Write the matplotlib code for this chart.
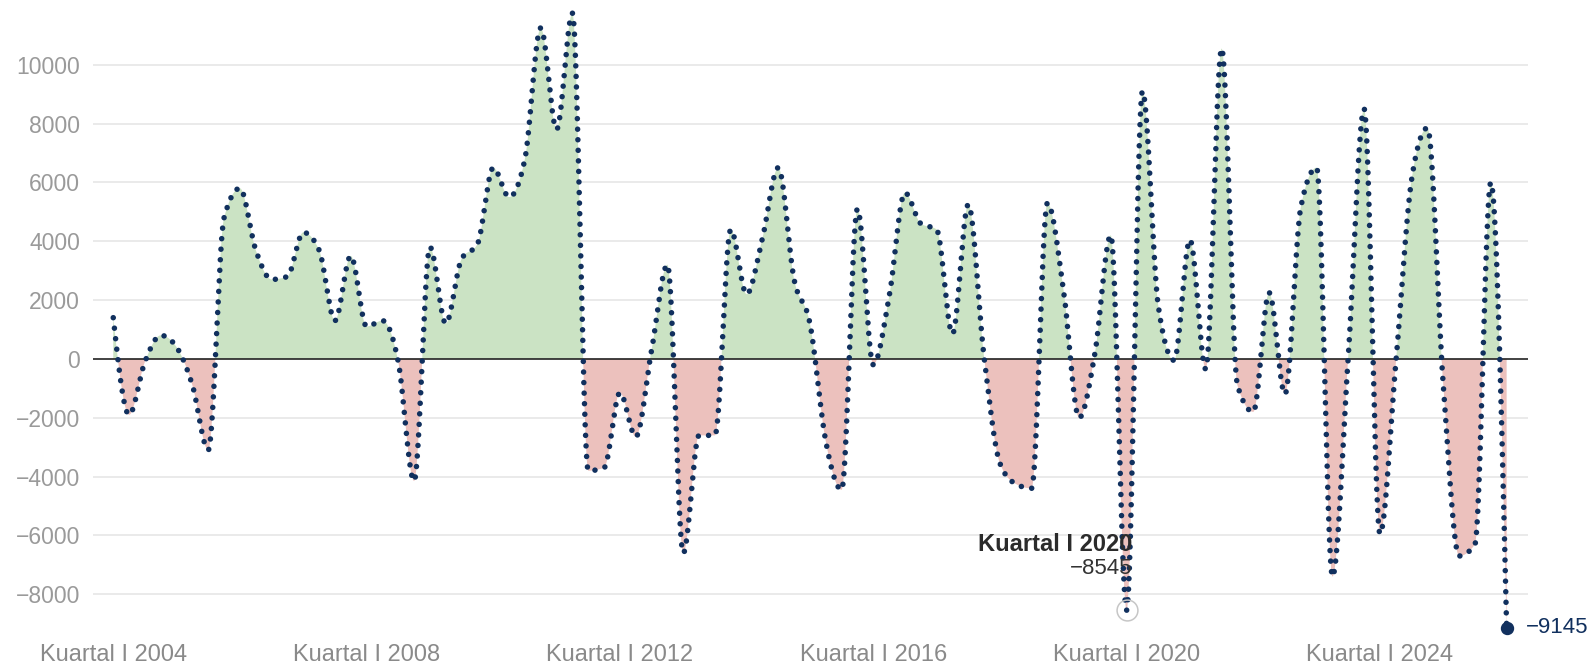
import numpy as np
import matplotlib
matplotlib.use("Agg")
import matplotlib.pyplot as plt

plt.rcParams['font.family'] = ['Liberation Sans', 'DejaVu Sans']

# one value per quarter, Kuartal I 2004 .. Kuartal I 2026
values = [1400, -1900, -100, 800, 400, -900, -3100, 4800,
          5800, 3700, 2700, 2800, 4300, 3700, 1300, 3500,
          1100, 1300, -100, -4150, 3800, 1200, 3400, 3900,
          6500, 5500, 6800, 11250, 7800, 11750, -3800, -3700,
          -1150, -2650, 300, 3200, -6600, -2600, -2600, 4400,
          2200, 4100, 6500, 2700, 1200, -2800, -4450, 5100,
          -200, 2100, 5650, 4600, 4400, 850, 5250, 50,
          -3550, -4250, -4400, 5300, 2400, -2000, 200, 4200,
          -8545, 9100, 1800, -50, 4050, -350, 10550, -900,
          -1800, 2250, -1200, 5150, 6500, -7400, 100, 8500,
          -5950, -150, 6100, 7850, -900, -6700, -6300, 6000,
          -9145]
xtick_pos = [0, 16, 32, 48, 64, 80]
xtick_labels = ["Kuartal I 2004", "Kuartal I 2008", "Kuartal I 2012",
                "Kuartal I 2016", "Kuartal I 2020", "Kuartal I 2024"]
yticks = [-8000, -6000, -4000, -2000, 0, 2000, 4000, 6000, 8000, 10000]
hl_idx = 64
hl_label = "Kuartal I 2020"

NAVY = '#11305e'
GREEN = '#cbe3c4'
RED = '#ecc1bd'


def monotone_x(x, y, n=40):
    # monotone cubic curve (same idea as d3.curveMonotoneX)
    x = np.asarray(x, float)
    y = np.asarray(y, float)
    h = np.diff(x)
    s = np.diff(y) / h
    t = np.zeros_like(y)
    for k in range(1, len(y) - 1):
        p = (s[k-1] * h[k] + s[k] * h[k-1]) / (h[k-1] + h[k])
        t[k] = (np.sign(s[k-1]) + np.sign(s[k])) * min(abs(s[k-1]), abs(s[k]), 0.5 * abs(p))
    t[0] = (3 * s[0] - t[1]) / 2
    t[-1] = (3 * s[-1] - t[-2]) / 2
    u = np.linspace(0, 1, n, endpoint=False)
    xs, ys = [], []
    for k in range(len(y) - 1):
        d = h[k] / 3
        p0, p1, p2, p3 = y[k], y[k] + d * t[k], y[k+1] - d * t[k+1], y[k+1]
        xs.append(x[k] + u * h[k])
        ys.append((1-u)**3 * p0 + 3 * (1-u)**2 * u * p1 + 3 * (1-u) * u**2 * p2 + u**3 * p3)
    xs.append([x[-1]])
    ys.append([y[-1]])
    return np.concatenate(xs), np.concatenate(ys)


q = np.arange(len(values))
xs, ys = monotone_x(q, values)

fig = plt.figure(figsize=(15.95, 6.67), dpi=100)
ax = fig.add_axes([0.0581, 0.0435, 0.8997, 0.9565])

ax.fill_between(xs, ys, 0, where=ys >= 0, interpolate=True, color=GREEN, lw=0, zorder=1)
ax.fill_between(xs, ys, 0, where=ys <= 0, interpolate=True, color=RED, lw=0, zorder=1)

for yv in yticks:
    if yv != 0:
        ax.axhline(yv, color='#e6e6e6', lw=1.2, zorder=0)
ax.axhline(0, color='#222222', lw=1.2, zorder=2)

ax.plot(xs, ys, color=NAVY, lw=4.0, linestyle=(0, (0.001, 1.9)),
        dash_capstyle='round', zorder=3)

# highlighted point
ax.plot(hl_idx, values[hl_idx], 'o', ms=15, mfc='none', mec='#c6c6c6', mew=1.1,
        zorder=4, clip_on=False)
ax.annotate(hl_label, xy=(hl_idx, values[hl_idx]), xytext=(4.5, 47.5),
            textcoords='offset points', ha='right', va='center',
            fontsize=17, fontweight='bold', color='#2b2b2b')
ax.annotate(f"\u2212{abs(values[hl_idx])}", xy=(hl_idx, values[hl_idx]), xytext=(4.5, 30),
            textcoords='offset points', ha='right', va='center',
            fontsize=16, color='#333333')

# last point
last = len(values) - 1
ax.plot(last, values[last], 'o', ms=8.6, color=NAVY, zorder=5, clip_on=False)
ax.annotate(f"\u2212{abs(values[last])}", xy=(last, values[last]), xytext=(14, 0),
            textcoords='offset points', ha='left', va='center',
            fontsize=16, color=NAVY, annotation_clip=False)

ax.set_xlim(-1.30, 89.33)
ax.set_ylim(-9487, 12199)
ax.set_yticks(yticks)
ax.set_yticklabels([f"\u2212{abs(v)}" if v < 0 else str(v) for v in yticks])
ax.set_xticks(xtick_pos)
ax.set_xticklabels(xtick_labels)
ax.tick_params(axis='y', length=0, pad=9, labelsize=16.5, labelcolor='#9a9a9a')
ax.tick_params(axis='x', length=0, pad=4, labelsize=17, labelcolor='#8a8a8a')
for sp in ax.spines.values():
    sp.set_visible(False)
ax.patch.set_alpha(0)

fig.savefig("out.png", dpi=100)
